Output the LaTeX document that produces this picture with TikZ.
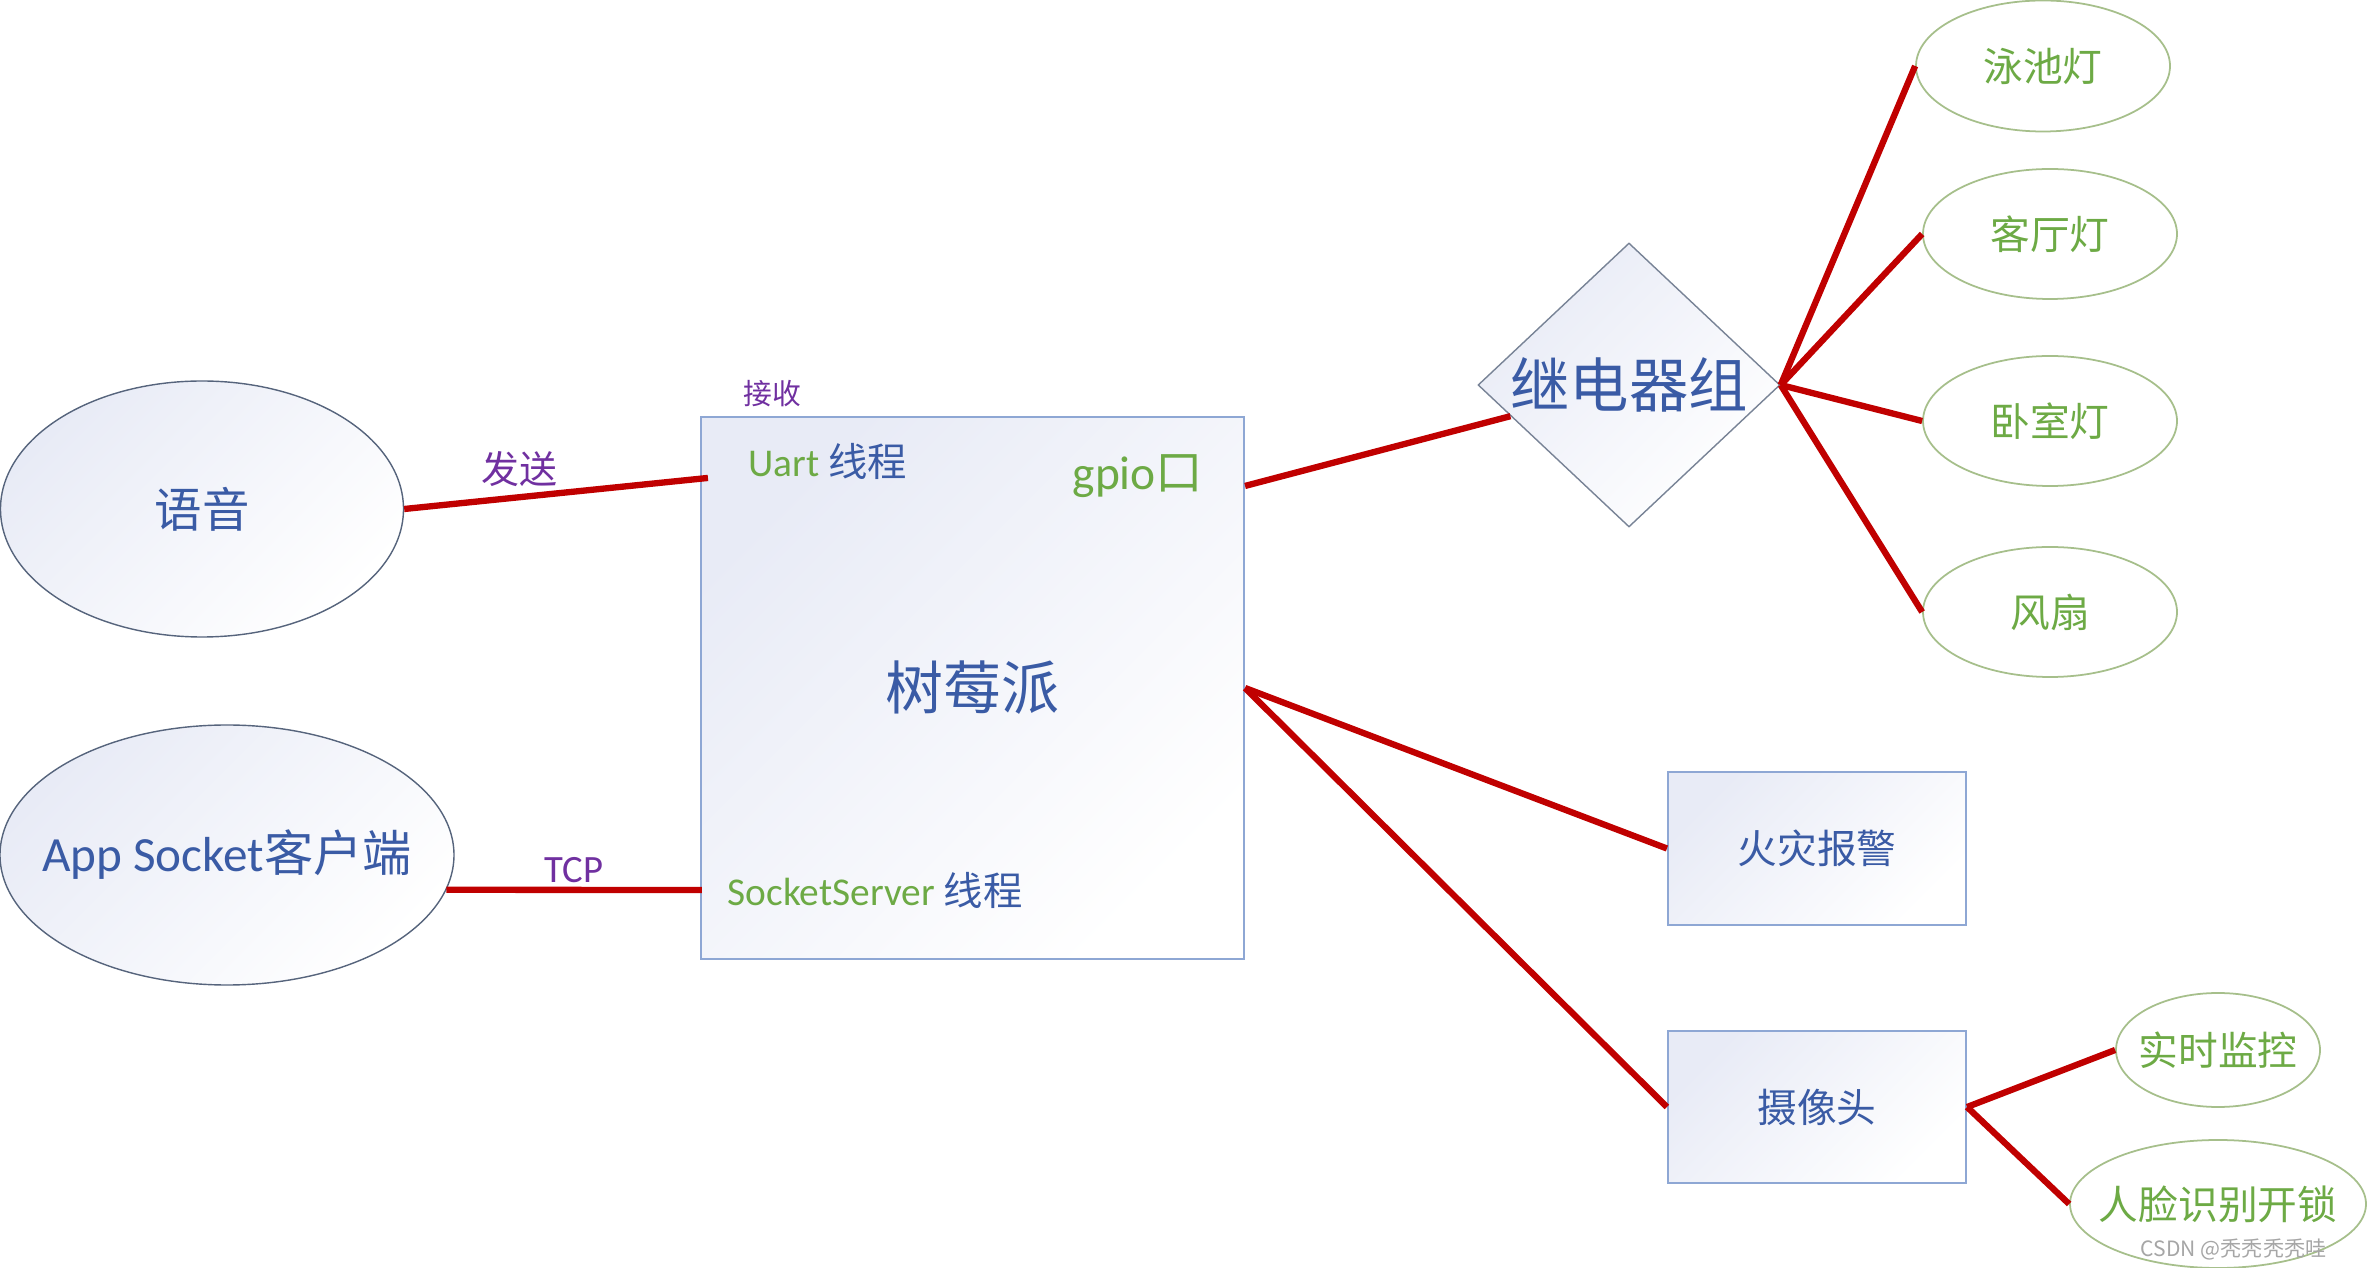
\documentclass[tikz,border=0pt]{standalone}
\usepackage{fontspec}
\setmainfont{Carlito}
\newfontfamily\cjk{Noto Sans CJK SC}
\usepackage{xcolor}
\usepackage{tikz}
\usetikzlibrary{positioning,shapes.geometric,calc}
\definecolor{hblue}{HTML}{3A5BA5}
\definecolor{hgreen}{HTML}{6DAA45}
\definecolor{hpurple}{HTML}{7030A0}
\definecolor{hred}{HTML}{C00000}
\definecolor{hframe}{HTML}{8EA7D4}
\definecolor{hslate}{HTML}{56647C}
\definecolor{hleafline}{HTML}{A6BF8B}
\definecolor{hmist}{HTML}{E8EBF6}
\newcommand\hsz[1]{\fontsize{#1}{#1}\selectfont}
\newcommand\hfit[1]{\makebox[0pt]{#1}}
\tikzset{
  hshade/.style={top color=hmist, bottom color=white, shading angle=45},
  hbox/.style={rectangle, draw=hframe, line width=0.6pt, hshade,
               inner sep=0pt, text=hblue},
  hoval/.style={ellipse, draw=hslate, line width=0.4pt, hshade,
                inner sep=0pt, text=hblue},
  hrelay/.style={diamond, draw=hslate!80, line width=0.4pt, hshade,
                 inner sep=0pt, minimum width=3.02cm, minimum height=2.84cm},
  hleaf/.style={ellipse, draw=hleafline, line width=0.5pt, fill=white,
                inner sep=0pt, text=hgreen, font=\cjk\hsz{11.3}},
  hlink/.style={hred, line width=1.8pt},
  hlbl/.style={text=hpurple, inner sep=1pt},
  htag/.style={text=hgreen, inner sep=0pt, font=\hsz{11.2}},
}

\begin{document}
\begin{tikzpicture}
  \useasboundingbox (0,0) rectangle (23.69,-12.68);

  % 树莓派
  \node[hbox, minimum width=5.43cm, minimum height=5.42cm,
        font=\cjk\hsz{16.5}] (pi) at (9.725,-6.88) {树莓派};
  \node[htag] (uart) at (8.28,-4.61) {Uart {\cjk\color{hblue}线程}};
  \node[htag, font=\hsz{13.5}] (gpio) at (11.38,-4.76) {gpio{\cjk 口}};
  \node[htag] (sock) at (8.75,-8.90) {SocketServer {\cjk\color{hblue}线程}};
  \node[hlbl, font=\cjk\hsz{8.2}] (recv) at (7.72,-3.94) {接收};

  % 输入端
  \node[hoval, minimum width=4.03cm, minimum height=2.56cm,
        font=\cjk\hsz{13.5}] (voice) at (2.02,-5.09) {\hfit{语音}};
  \node[hoval, minimum width=4.54cm, minimum height=2.60cm,
        font=\hsz{14}] (app) at (2.27,-8.55) {\hfit{App Socket{\cjk 客户端}}};

  \coordinate (uartin) at ([xshift=0.08cm, yshift=-0.62cm]pi.north west);
  \coordinate (sockin) at ([xshift=0.02cm, yshift=0.70cm]pi.south west);
  \draw[hlink] (voice.east) -- node[hlbl, pos=0.38, above=1pt,
        font=\cjk\hsz{10.8}] (send) {发送} (uartin);
  \draw[hlink] (app.-9) -- node[hlbl, midway, above=0pt,
        font=\hsz{11}] (tcp) {TCP} (sockin);

  % 继电器组
  \node[hrelay] (relay) at (16.29,-3.85) {};
  \node[text=hblue, font=\cjk\hsz{16.9}] (relaytxt) at (relay.center) {继电器组};
  \coordinate (gpioout) at ([yshift=-0.70cm]pi.north east);
  \draw[hlink] (gpioout) -- (relay);

  % 灯和风扇
  \node[hleaf, minimum width=2.54cm, minimum height=1.31cm] (pool) at (20.43,-0.66) {\hfit{泳池灯}};
  \node[hleaf, minimum width=2.54cm, minimum height=1.30cm] (hall) at (20.50,-2.34) {\hfit{客厅灯}};
  \node[hleaf, minimum width=2.54cm, minimum height=1.30cm] (bed) at (20.50,-4.21) {\hfit{卧室灯}};
  \node[hleaf, minimum width=2.54cm, minimum height=1.30cm] (fan) at (20.50,-6.12) {\hfit{风扇}};
  \draw[hlink] (relay.east) -- (pool.west);
  \draw[hlink] (relay.east) -- (hall.west);
  \draw[hlink] (relay.east) -- (bed.west);
  \draw[hlink] (relay.east) -- (fan.west);

  % 火灾报警 / 摄像头
  \node[hbox, minimum width=2.98cm, minimum height=1.53cm,
        font=\cjk\hsz{11.3}] (fire) at (18.17,-8.485) {火灾报警};
  \node[hbox, minimum width=2.98cm, minimum height=1.52cm,
        font=\cjk\hsz{11.3}] (cam) at (18.17,-11.07) {摄像头};
  \draw[hlink] (pi.east) -- (fire.west);
  \draw[hlink] (pi.east) -- (cam.west);

  \node[hleaf, minimum width=2.04cm, minimum height=1.14cm] (live) at (22.18,-10.50) {\hfit{实时监控}};
  \node[hleaf, minimum width=2.96cm, minimum height=1.28cm] (face) at (22.18,-12.04) {\hfit{人脸识别开锁}};
  \draw[hlink] (cam.east) -- (live.west);
  \draw[hlink] (cam.east) -- (face.west);

  % 水印
  \node[text=black!35, font=\cjk\hsz{6}, anchor=east, inner sep=0pt] (mark)
       at (23.27,-12.50) {CSDN @秃秃秃秃哇};

\end{tikzpicture}
\end{document}
